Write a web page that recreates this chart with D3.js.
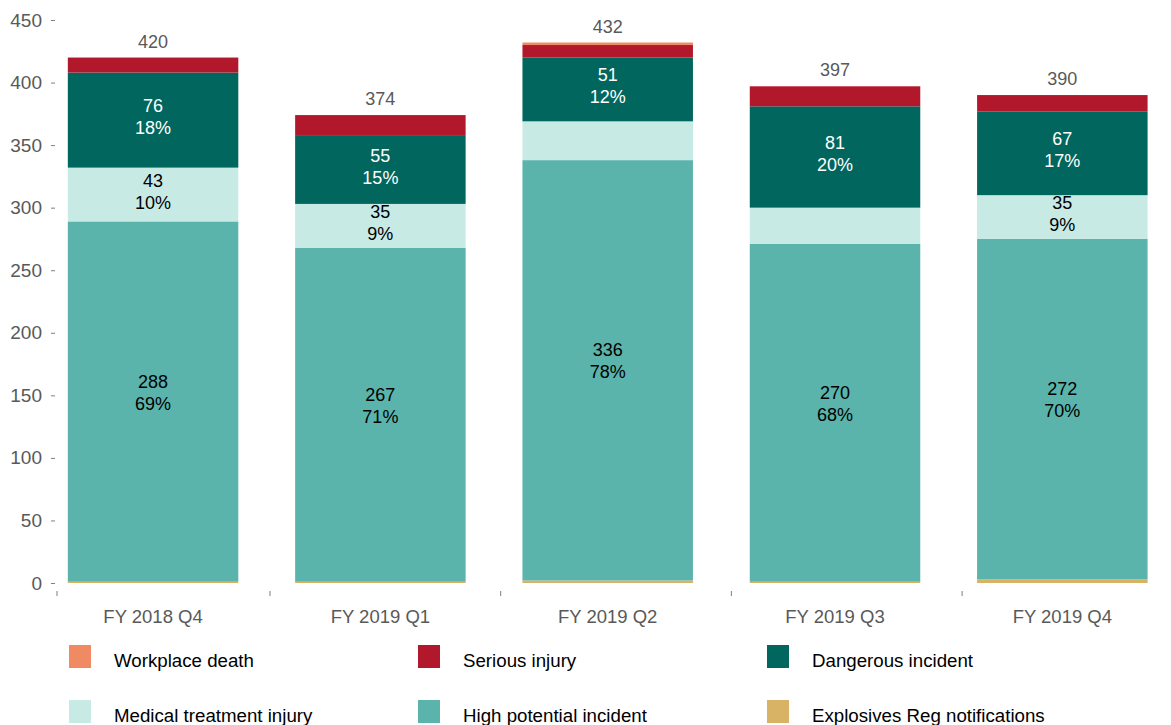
<!DOCTYPE html>
<html>
<head>
<meta charset="utf-8">
<script src="https://d3js.org/d3.v7.min.js"></script>
<style>
  body { margin: 0; background: #fff; }
  svg { display: block; font-family: "Liberation Sans", Arial, sans-serif; }
</style>
</head>
<body>
<div id="chart"></div>
<script>
'use strict'

// quarters on the x axis
var quarters = ["FY 2018 Q4", "FY 2019 Q1", "FY 2019 Q2", "FY 2019 Q3", "FY 2019 Q4"];

// series, stacked bottom to top
var seriesNames = ["Explosives Reg notifications", "High potential incident", "Medical treatment injury",
                   "Dangerous incident", "Serious injury", "Workplace death"];
var explosivesReg   = [1, 1, 2, 1, 3];
var highPotential   = [288, 267, 336, 270, 272];
var medicalTreat    = [43, 35, 31, 29, 35];
var dangerous       = [76, 55, 51, 81, 67];
var seriousInjury   = [12, 16, 10, 16, 13];
var workplaceDeath  = [0, 0, 2, 0, 0];

var yTicks = [0, 50, 100, 150, 200, 250, 300, 350, 400, 450];

// legend order (reading left to right, top to bottom)
var legendOrder = ["Workplace death", "Serious injury", "Dangerous incident",
                   "Medical treatment injury", "High potential incident", "Explosives Reg notifications"];

var colors = {
    "Workplace death": "#ef8a62",
    "Serious injury": "#b2182b",
    "Dangerous incident": "#01665e",
    "Medical treatment injury": "#c7eae5",
    "High potential incident": "#5ab4ac",
    "Explosives Reg notifications": "#d8b365"
};
var darkSeries = ["Dangerous incident", "Serious injury"];

var W = 1171, H = 725;

var rows = quarters.map(function(q, i){
    return {
        quarter: q,
        "Explosives Reg notifications": explosivesReg[i],
        "High potential incident": highPotential[i],
        "Medical treatment injury": medicalTreat[i],
        "Dangerous incident": dangerous[i],
        "Serious injury": seriousInjury[i],
        "Workplace death": workplaceDeath[i]
    };
});
rows.forEach(function(r){
    r.total = d3.sum(seriesNames, function(s){ return r[s]; });
});

var svg = d3.select("#chart").append("svg")
    .attr("width", W)
    .attr("height", H);

var x = d3.scaleBand()
    .domain(quarters)
    .range([39.4, 1176])
    .paddingInner(0.25)
    .paddingOuter(0.125);

var y = d3.scaleLinear()
    .domain([0, 450])
    .range([583, 20]);

// y axis: labels and short dashes, no domain line
var yAxis = svg.append("g")
    .attr("transform", "translate(55,0)")
    .call(d3.axisLeft(y).tickValues(yTicks).tickSize(4).tickPadding(9));
yAxis.select(".domain").remove();
yAxis.selectAll("line").attr("stroke", "#7f7f7f");
yAxis.selectAll("text")
    .attr("fill", "#595959")
    .style("font-size", "19px")
    .style("font-family", "'Liberation Sans', Arial, sans-serif");

// x axis: category labels and small separator ticks
var sepScale = d3.scaleLinear().domain([0, 5]).range([39.3, 1192.8]);
var sepTicks = [57].concat([1, 2, 3, 4].map(sepScale));
svg.append("g").selectAll("line")
    .data(sepTicks)
    .enter()
    .append("line")
    .attr("x1", function(d){ return d; })
    .attr("x2", function(d){ return d; })
    .attr("y1", 591)
    .attr("y2", 596)
    .attr("stroke", "#7f7f7f")
    .attr("stroke-width", 1);

svg.append("g").selectAll("text")
    .data(quarters)
    .enter()
    .append("text")
    .attr("x", function(d){ return x(d) + x.bandwidth() / 2; })
    .attr("y", 623)
    .attr("text-anchor", "middle")
    .attr("fill", "#595959")
    .style("font-size", "18.5px")
    .text(function(d){ return d; });

// stacked bars
var stack = d3.stack().keys(seriesNames);
var stacked = stack(rows);

var layers = svg.append("g").selectAll("g")
    .data(stacked)
    .enter()
    .append("g")
    .attr("fill", function(d){ return colors[d.key]; });

layers.selectAll("rect")
    .data(function(d){ return d; })
    .enter()
    .append("rect")
    .attr("x", function(d){ return x(d.data.quarter); })
    .attr("width", x.bandwidth())
    .attr("y", function(d){ return y(d[1]); })
    .attr("height", function(d){ return y(d[0]) - y(d[1]); });

// value + share labels inside the larger segments
var labelLayer = svg.append("g");
stacked.forEach(function(layer){
    layer.forEach(function(d){
        var v = d[1] - d[0];
        if (v < 33) return;
        var cx = x(d.data.quarter) + x.bandwidth() / 2;
        var mid = (y(d[0]) + y(d[1])) / 2;
        var h = y(d[0]) - y(d[1]);
        var shift = h > 200 ? -9 : -3;
        var fill = darkSeries.indexOf(layer.key) >= 0 ? "#ffffff" : "#000000";
        var t = labelLayer.append("text")
            .attr("text-anchor", "middle")
            .attr("fill", fill)
            .style("font-size", "18px");
        t.append("tspan")
            .attr("x", cx)
            .attr("y", mid + shift - 5)
            .text(v);
        t.append("tspan")
            .attr("x", cx)
            .attr("y", mid + shift + 17)
            .text(Math.round(v / d.data.total * 100) + "%");
    });
});

// totals above the bars
svg.append("g").selectAll("text")
    .data(rows)
    .enter()
    .append("text")
    .attr("x", function(d){ return x(d.quarter) + x.bandwidth() / 2; })
    .attr("y", function(d){ return y(d.total) - 10; })
    .attr("text-anchor", "middle")
    .attr("fill", "#595959")
    .style("font-size", "18px")
    .text(function(d){ return d.total; });

// legend, 3 columns x 2 rows
var legend = svg.append("g").selectAll("g")
    .data(legendOrder)
    .enter()
    .append("g")
    .attr("transform", function(d, i){
        return "translate(" + (69 + (i % 3) * 349) + "," + (645 + Math.floor(i / 3) * 55) + ")";
    });

legend.append("rect")
    .attr("width", 22)
    .attr("height", 23)
    .attr("fill", function(d){ return colors[d]; });

legend.append("text")
    .attr("x", 45)
    .attr("y", 22)
    .attr("fill", "#000")
    .style("font-size", "18.7px")
    .text(function(d){ return d; });
</script>
</body>
</html>
